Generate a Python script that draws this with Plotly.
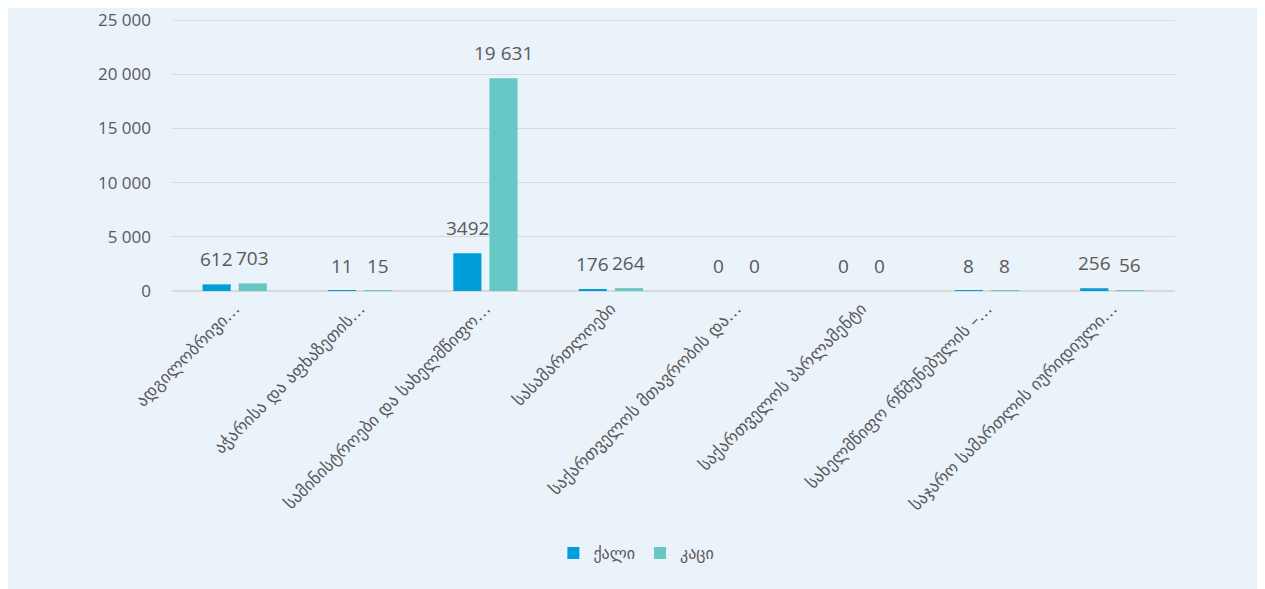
import plotly.graph_objects as go

categories = [
    "ადგილობრივი…",
    "აჭარისა და აფხაზეთის…",
    "სამინისტროები და სახელმწიფო…",
    "სასამართლოები",
    "საქართველოს მთავრობის და…",
    "საქართველოს პარლამენტი",
    "სახელმწიფო რწმუნებულის –…",
    "საჯარო სამართლის იურიდიული…",
]
women = [612, 11, 3492, 176, 0, 0, 8, 256]
men = [703, 15, 19631, 264, 0, 0, 8, 56]
series_names = ["ქალი", "კაცი"]
y_ticks = [0, 5000, 10000, 15000, 20000, 25000]


def fmt(v):
    return f"{v:,}".replace(",", " ") if v >= 10000 else str(v)


def fmt_tick(v):
    return f"{v:,}".replace(",", " ")


BLUE = "#009FDC"
TEAL = "#66C8C4"
TEXT = "#595959"
BG = "#EAF2FA"
GRID = "#D9D9D9"

fig = go.Figure()
series = [(series_names[0], women, BLUE, -18), (series_names[1], men, TEAL, 18)]
for name, vals, col, _ in series:
    fig.add_trace(go.Bar(
        x=categories, y=vals, name=name,
        marker=dict(color=col, line=dict(width=0)),
    ))

annotations = []
for name, vals, col, xs in series:
    for c, v in zip(categories, vals):
        annotations.append(dict(
            x=c, y=v, xref="x", yref="y", text=fmt(v), showarrow=False,
            xshift=xs, yshift=10, yanchor="bottom",
            font=dict(family="Open Sans", size=19, color=TEXT),
        ))

fig.update_layout(
    width=1257, height=581,
    paper_bgcolor=BG, plot_bgcolor=BG,
    margin=dict(l=164, r=90, t=12, b=298),
    barmode="group", bargap=0.424, bargroupgap=0.22,
    font=dict(family="Open Sans", color=TEXT),
    legend=dict(orientation="h", x=0.463, xanchor="center", y=-0.967, yanchor="middle",
                font=dict(family="DejaVu Sans", size=16, color=TEXT),
                itemwidth=30, traceorder="normal"),
    annotations=annotations,
    shapes=[dict(type="line", xref="paper", yref="y", x0=0, x1=1,
                 y0=y_ticks[-1], y1=y_ticks[-1], line=dict(color=GRID, width=1),
                 layer="below")],
)
fig.update_xaxes(
    tickangle=-45, automargin=False, showgrid=False,
    tickfont=dict(family="DejaVu Sans", size=17, color=TEXT),
    showline=True, linecolor=GRID, linewidth=1, ticks="",
)
fig.update_yaxes(
    range=[0, 25020], tickvals=y_ticks, ticktext=[fmt_tick(v) for v in y_ticks],
    showgrid=True, gridcolor=GRID, gridwidth=1,
    zeroline=True, zerolinecolor=GRID,
    tickfont=dict(family="Open Sans", size=17, color=TEXT),
    ticklabelstandoff=20, automargin=False, ticklabeloverflow="allow",
)
fig.write_html("out.html")
